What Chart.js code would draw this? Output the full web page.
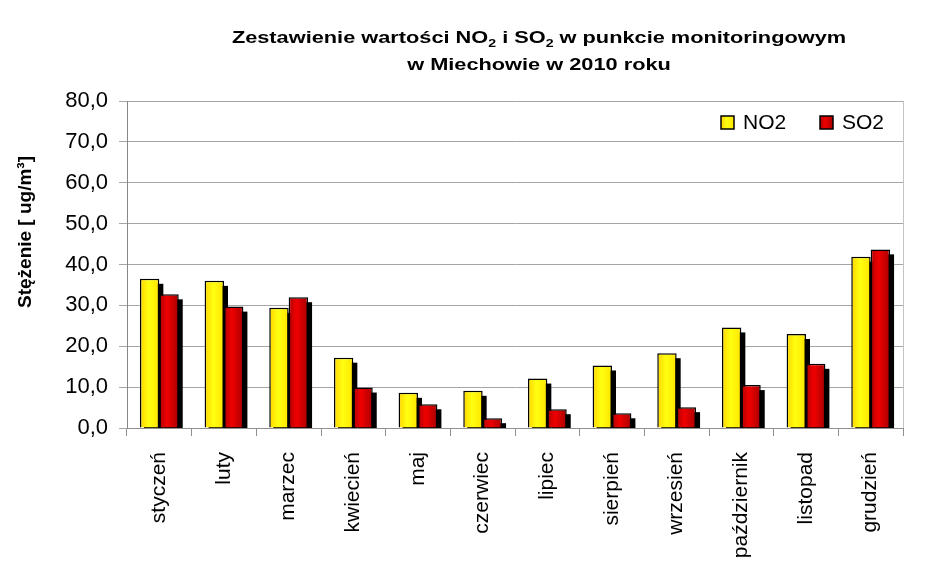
<!DOCTYPE html>
<html>
<head>
<meta charset="utf-8">
<script src="https://cdn.jsdelivr.net/npm/chart.js@4/dist/chart.umd.min.js"></script>
<style>
  body { margin: 0; background: #fff; }
  #box { width: 930px; height: 572px; position: relative; }
</style>
</head>
<body>
<div id="box"><canvas id="wykres"></canvas></div>
<script>
// Dane
const miesiace = ['styczeń', 'luty', 'marzec', 'kwiecień', 'maj', 'czerwiec',
  'lipiec', 'sierpień', 'wrzesień', 'październik', 'listopad', 'grudzień'];
const no2 = [36.5, 36.0, 29.4, 17.2, 8.6, 9.1, 12.1, 15.3, 18.3, 24.6, 23.0, 41.9];
const so2 = [32.7, 29.7, 32.0, 9.9, 5.8, 2.4, 4.6, 3.6, 5.1, 10.5, 15.7, 43.7];
const nazwySerii = ['NO2', 'SO2'];
const yMin = 0;
const yMax = 80;
const yKrok = 10;

const tytul1 = [['Zestawienie wartości NO', false], ['2', true], [' i SO', false], ['2', true], [' w punkcie monitoringowym', false]];
const tytul2 = [['w Miechowie w 2010 roku', false]];
const tytulOsiY = 'Stężenie [ ug/m³]';

const FONT = "'Liberation Sans', Arial, sans-serif";
const CAT_PCT = 0.6;

// Gradienty slupkow
const stopy = [
  [[0, '#ffd400'], [0.45, '#ffff10'], [1, '#ffe400']],
  [[0, '#b00000'], [0.4, '#f00000'], [1, '#a80000']]
];
const pelne = ['#ffe800', '#d00000'];

function wypelnienie(c) {
  const chart = c.chart;
  const xs = chart.scales.x;
  if (!xs || c.type !== 'data' || !(xs.width > 0)) return pelne[c.datasetIndex];
  const cat = xs.width / miesiace.length;
  const bw = cat * CAT_PCT / 2;
  const left = xs.getPixelForValue(c.dataIndex) - cat * CAT_PCT / 2 + c.datasetIndex * bw;
  if (!isFinite(left) || !isFinite(bw)) return pelne[c.datasetIndex];
  const g = chart.ctx.createLinearGradient(left, 0, left + bw, 0);
  stopy[c.datasetIndex].forEach(s => g.addColorStop(s[0], s[1]));
  return g;
}

// Cien pod slupkami
const cien = {
  id: 'cien',
  beforeDatasetsDraw(chart) {
    const ctx = chart.ctx;
    const a = chart.chartArea;
    ctx.save();
    ctx.beginPath();
    ctx.rect(a.left, a.top, a.right - a.left, a.bottom - a.top);
    ctx.clip();
    ctx.fillStyle = '#000';
    chart.getSortedVisibleDatasetMetas().forEach(meta => {
      meta.data.forEach(el => {
        const p = el.getProps(['x', 'y', 'base', 'width'], true);
        ctx.fillRect(p.x - p.width / 2 + 4, p.y + 5, p.width, p.base - p.y);
      });
    });
    ctx.restore();
  }
};

function rysujFragmenty(ctx, runs, cx, baseline, size, sx) {
  let total = 0;
  runs.forEach(r => {
    ctx.font = 'bold ' + (r[1] ? size * 0.65 : size) + 'px ' + FONT;
    total += ctx.measureText(r[0]).width;
  });
  ctx.save();
  ctx.translate(cx - total * sx / 2, baseline);
  ctx.scale(sx, 1);
  let x = 0;
  runs.forEach(r => {
    ctx.font = 'bold ' + (r[1] ? size * 0.65 : size) + 'px ' + FONT;
    ctx.fillText(r[0], x, r[1] ? size * 0.22 : 0);
    x += ctx.measureText(r[0]).width;
  });
  ctx.restore();
}

// Tytul, opis osi Y, legenda, prawa krawedz
const opisy = {
  id: 'opisy',
  afterDraw(chart) {
    const ctx = chart.ctx;
    const a = chart.chartArea;
    ctx.save();
    ctx.fillStyle = '#000';
    ctx.textAlign = 'left';
    ctx.textBaseline = 'alphabetic';
    rysujFragmenty(ctx, tytul1, 539, 43, 17, 1.28);
    rysujFragmenty(ctx, tytul2, 539, 70, 17, 1.28);

    // os Y
    ctx.save();
    ctx.translate(26, 232);
    ctx.rotate(-Math.PI / 2);
    ctx.font = 'bold 19px ' + FONT;
    ctx.textAlign = 'center';
    ctx.textBaseline = 'middle';
    ctx.fillText(tytulOsiY, 0, 0);
    ctx.restore();

    // prawa krawedz
    ctx.strokeStyle = '#c4c4c4';
    ctx.lineWidth = 1;
    ctx.beginPath();
    ctx.moveTo(a.right + 0.5, a.top);
    ctx.lineTo(a.right + 0.5, a.bottom);
    ctx.stroke();

    // legenda
    ctx.font = '21px ' + FONT;
    ctx.textBaseline = 'alphabetic';
    const pozycje = [721, 820];
    nazwySerii.forEach((n, i) => {
      const x = pozycje[i];
      const y = a.top + 15;
      const g = ctx.createLinearGradient(x, 0, x + 13, 0);
      stopy[i].forEach(s => g.addColorStop(s[0], s[1]));
      ctx.fillStyle = g;
      ctx.fillRect(x, y, 13, 13);
      ctx.strokeStyle = '#000';
      ctx.lineWidth = 1.5;
      ctx.strokeRect(x, y, 13, 13);
      ctx.fillStyle = '#000';
      ctx.fillText(n, x + 22, y + 13);
    });
    ctx.restore();
  }
};

new Chart(document.getElementById('wykres'), {
  type: 'bar',
  data: {
    labels: miesiace,
    datasets: [
      {
        label: nazwySerii[0],
        data: no2,
        backgroundColor: wypelnienie,
        borderColor: '#000',
        borderWidth: 1.5,
        categoryPercentage: CAT_PCT,
        barPercentage: 1.0
      },
      {
        label: nazwySerii[1],
        data: so2,
        backgroundColor: wypelnienie,
        borderColor: '#000',
        borderWidth: 1.5,
        categoryPercentage: CAT_PCT,
        barPercentage: 1.0
      }
    ]
  },
  options: {
    responsive: true,
    maintainAspectRatio: false,
    animation: false,
    layout: { padding: { top: 101, right: 27, left: 0, bottom: 0 } },
    plugins: {
      legend: { display: false },
      title: { display: false },
      tooltip: { enabled: false }
    },
    scales: {
      x: {
        afterFit: s => { s.height = 144; },
        grid: { offset: true, drawOnChartArea: false, drawTicks: true, tickLength: 8, color: '#909090' },
        border: { color: '#909090' },
        ticks: {
          minRotation: 90, maxRotation: 90, padding: 16,
          color: '#000', font: { family: FONT, size: 21 }
        }
      },
      y: {
        min: yMin, max: yMax,
        afterFit: s => { s.width = 127; },
        grid: { color: '#a6a6a6', tickLength: 8 },
        border: { color: '#888' },
        ticks: {
          stepSize: yKrok, padding: 11, color: '#000',
          font: { family: FONT, size: 22 },
          callback: v => v.toFixed(1).replace('.', ',')
        }
      }
    }
  },
  plugins: [cien, opisy]
});
</script>
</body>
</html>
